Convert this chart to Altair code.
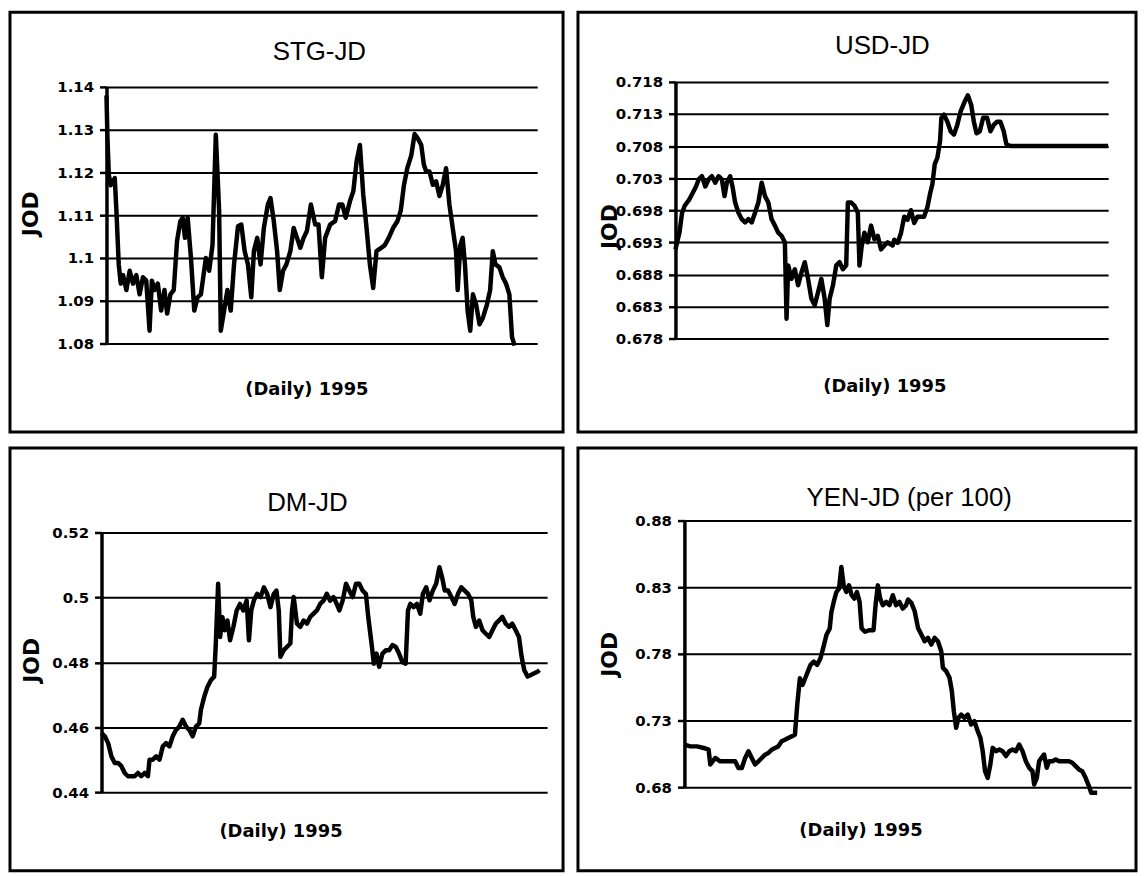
import altair as alt
import pandas as pd

# ---------------- data ----------------
# t = position along the 1995 daily axis (arbitrary units), v = value in JOD
stg_t = [35, 38, 42, 48, 60, 65, 72, 78, 85, 95, 105, 115, 125, 135, 145, 155, 165, 172, 180, 190,
         200, 210, 218, 228, 238, 248, 258, 265, 272, 280, 290, 300, 310, 320, 335, 345, 355, 365, 375, 380,
         390, 400, 410, 420, 432, 442, 452, 462, 472, 480, 490, 500, 510, 522, 530, 540, 550, 558, 568, 578,
         590, 600, 610, 620, 630, 640, 652, 665,
         675, 685, 695, 710, 725, 737, 747, 757, 770, 780, 790, 800, 810, 820, 830, 840, 850, 865, 875, 887,
         900, 913, 923, 933, 943, 955, 965, 975, 985, 993, 1000, 1010, 1020, 1030, 1040, 1050, 1060, 1070,
         1080, 1090, 1095, 1103, 1110, 1117, 1125, 1133, 1141, 1151, 1161, 1171, 1183, 1193, 1201, 1209,
         1221, 1231, 1241, 1251, 1259, 1267]
stg_v = [1.138, 1.128, 1.1195, 1.117, 1.1187, 1.111, 1.0985, 1.094, 1.096, 1.0925, 1.097, 1.094, 1.096,
         1.0915, 1.0955, 1.0947, 1.083, 1.0947, 1.0925, 1.094, 1.0877, 1.0925, 1.087, 1.0915, 1.0925, 1.104,
         1.1086, 1.1094, 1.1047, 1.1094, 1.100, 1.0877, 1.0908, 1.0915, 1.100, 1.097, 1.103, 1.1288, 1.111,
         1.083, 1.0877, 1.0925, 1.0877, 1.0985, 1.1074, 1.1078, 1.1016, 1.0985, 1.0908, 1.1016, 1.1047,
         1.0985, 1.107, 1.1125, 1.114, 1.1086, 1.1016, 1.0925, 1.097, 1.0985, 1.1016, 1.107, 1.1047, 1.1024,
         1.1047, 1.1063, 1.1125, 1.1078,
         1.1078, 1.0955, 1.1047, 1.1078, 1.1086, 1.1125, 1.1125, 1.1094, 1.1133, 1.1156, 1.1226, 1.1264,
         1.1148, 1.107, 1.0985, 1.093, 1.1016, 1.1024, 1.103, 1.1047, 1.107, 1.1086, 1.111, 1.1171, 1.121,
         1.124, 1.129, 1.1279, 1.1264, 1.1218, 1.1202, 1.1202, 1.1171, 1.1179, 1.1145, 1.1171, 1.121,
         1.1125, 1.107, 1.1016, 1.0925, 1.103, 1.1047, 1.0985, 1.0877, 1.083, 1.0915, 1.089, 1.0845, 1.086,
         1.089, 1.0925, 1.1016, 1.0985, 1.0978, 1.0955, 1.094, 1.0915, 1.0815, 1.0795]

usd_t = [10, 15, 22, 30, 38, 45, 52, 62, 72, 80, 90, 100, 110, 120, 130, 140, 150, 158, 165, 175,
         182, 190, 200, 210, 220, 230, 240, 250, 260, 270, 280, 290, 300, 310, 320, 330, 340, 345, 350, 360,
         370, 380, 390, 400, 410, 420, 430, 440, 450, 460, 468, 475, 485, 495, 505, 515, 525, 530, 540, 550,
         560, 565, 572, 580, 590, 600, 610, 620, 630, 640, 650,
         665, 670, 680, 690, 700, 710, 720, 730, 740, 750, 760, 770, 778, 785, 792, 800, 808, 812, 820, 830,
         840, 850, 860, 870, 882, 892, 902, 910, 918, 928, 938, 950, 960, 970, 980, 990, 1000, 1008, 1020,
         1315]
usd_v = [0.6919, 0.693, 0.6945, 0.6976, 0.6987, 0.6992, 0.6997, 0.7007, 0.7017, 0.7028, 0.7033, 0.7017,
         0.7028, 0.7033, 0.7023, 0.7033, 0.7028, 0.7002, 0.7023, 0.7033, 0.7017, 0.6992, 0.6976, 0.6966,
         0.6961, 0.6966, 0.6961, 0.6976, 0.6992, 0.7023, 0.7002, 0.6992, 0.6966, 0.6956, 0.6945, 0.694,
         0.693, 0.6811, 0.6894, 0.6873, 0.6888, 0.6863, 0.6883, 0.6899, 0.6873, 0.6842, 0.6832, 0.6852,
         0.6873, 0.6842, 0.6801, 0.6842, 0.6863, 0.6894, 0.6899, 0.6888, 0.6894, 0.6992, 0.6992, 0.6987,
         0.6976, 0.6894, 0.6925, 0.6945, 0.693, 0.6956, 0.6935, 0.694, 0.6919, 0.6925, 0.693,
         0.6925, 0.6934, 0.6929, 0.6944, 0.697, 0.6965, 0.698, 0.696, 0.697, 0.697, 0.697, 0.6985, 0.7006,
         0.7021, 0.7052, 0.7062, 0.7088, 0.7124, 0.7129, 0.7118, 0.7103, 0.7098, 0.7113, 0.7134, 0.7149,
         0.7159, 0.7144, 0.7118, 0.7100, 0.7103, 0.7124, 0.7124, 0.7103, 0.7113, 0.7118, 0.7118, 0.7103,
         0.7083, 0.708, 0.708]

dm_t = [20, 30, 40, 50, 60, 70, 80, 90, 100, 110, 120, 130, 140, 150, 160, 165, 175, 185, 195, 205,
        215, 225, 235, 245, 255, 265, 275, 285, 295, 305, 315, 320, 330, 340, 350, 360, 365, 372, 378, 385,
        392, 400, 408, 418, 428, 438, 448, 458, 465, 472, 480, 490, 500, 510, 520, 530, 540, 548, 555, 560,
        570, 580, 590, 595, 600, 610, 620, 630, 640, 650, 660, 670, 680,
        690, 700, 710, 720, 730, 738, 748, 758, 768, 778, 788, 798, 808, 818, 825, 835, 842, 850, 858, 868,
        878, 888, 898, 908, 918, 928, 938, 945, 952, 962, 972, 982, 990, 1000, 1010, 1020, 1030, 1040,
        1048, 1056, 1066, 1076, 1086, 1096, 1106, 1116, 1126, 1136, 1142, 1150, 1160, 1170, 1180, 1190,
        1200, 1210, 1220, 1230, 1240, 1250, 1260, 1270, 1280, 1288, 1296, 1306, 1316, 1326, 1336, 1342]
dm_v = [0.4582, 0.4572, 0.4551, 0.451, 0.449, 0.449, 0.448, 0.4459, 0.4449, 0.4449, 0.4449, 0.4459,
        0.4449, 0.4459, 0.4449, 0.450, 0.450, 0.451, 0.450, 0.4541, 0.4551, 0.4541, 0.4572, 0.4592, 0.4602,
        0.4623, 0.4602, 0.4592, 0.4572, 0.4602, 0.4612, 0.4653, 0.4694, 0.4725, 0.4745, 0.4756, 0.4858,
        0.5042, 0.4878, 0.4939, 0.4899, 0.4929, 0.4868, 0.4909, 0.496, 0.498, 0.496, 0.4991, 0.4868, 0.496,
        0.4991, 0.5011, 0.5001, 0.5031, 0.5011, 0.497, 0.5011, 0.5021, 0.496, 0.4817, 0.4837, 0.4848,
        0.4858, 0.496, 0.5001, 0.4919, 0.4909, 0.4929, 0.4919, 0.494, 0.495, 0.496, 0.498,
        0.499, 0.5011, 0.499, 0.5001, 0.498, 0.496, 0.4991, 0.5042, 0.5021, 0.5001, 0.5042, 0.5042, 0.5021,
        0.5011, 0.494, 0.4858, 0.4796, 0.4827, 0.4786, 0.4827, 0.4837, 0.4837, 0.4853, 0.4848, 0.4827,
        0.4801, 0.4796, 0.496, 0.498, 0.497, 0.498, 0.495, 0.5011, 0.5031, 0.4991, 0.5021, 0.5042, 0.5093,
        0.5062, 0.5021, 0.5021, 0.5001, 0.498, 0.5011, 0.5031, 0.5021, 0.5011, 0.4991, 0.494, 0.4909,
        0.4929, 0.4899, 0.4888, 0.4878, 0.4899, 0.4919, 0.4929, 0.494, 0.4919, 0.4909, 0.4919, 0.4899,
        0.4878, 0.4817, 0.4776, 0.4756, 0.4761, 0.4766, 0.4771, 0.4776]

yen_t = [22, 40, 60, 80, 95, 100, 115, 130, 145, 160, 175, 185, 195, 205, 215, 225, 235, 245, 255, 265,
         275, 285, 295, 305, 315, 325, 335, 345, 355, 362, 370, 378, 386, 394, 402, 412, 422, 432, 440, 450,
         460, 465, 472, 480, 488, 495, 502, 510, 518, 526, 534, 542, 550, 556, 566, 580, 592, 598, 605, 612,
         620, 630, 640, 650, 660, 670, 680, 690,
         696, 706, 716, 726, 736, 746, 756, 766, 776, 786, 796, 801, 811, 821, 828, 834, 841, 848, 856, 866,
         876, 886, 896, 906, 914, 921, 928, 936, 944, 951, 961, 971, 981, 991, 1001, 1011, 1021, 1031, 1041,
         1051, 1061, 1071, 1076, 1084, 1091, 1098, 1106, 1114, 1121, 1131, 1141, 1151, 1161, 1171, 1181,
         1191, 1201, 1211, 1221, 1231, 1241, 1248, 1266]
yen_v = [0.7119, 0.7106, 0.7106, 0.7094, 0.7081, 0.697, 0.7019, 0.6994, 0.6994, 0.6994, 0.6994, 0.6944,
         0.6944, 0.7019, 0.7069, 0.7019, 0.697, 0.6994, 0.7019, 0.7044, 0.7056, 0.7081, 0.7094, 0.7106,
         0.7144, 0.7156, 0.7169, 0.7181, 0.7193, 0.7418, 0.7617, 0.7567, 0.7617, 0.7667, 0.7717, 0.7742,
         0.7717, 0.7767, 0.7841, 0.7941, 0.7991, 0.8115, 0.819, 0.8264, 0.8289, 0.8451, 0.8314, 0.8264,
         0.8314, 0.824, 0.8215, 0.8264, 0.819, 0.7991, 0.7966, 0.7978, 0.7978, 0.8165, 0.8314, 0.8215,
         0.8165, 0.819, 0.8165, 0.824, 0.8165, 0.819, 0.814, 0.8165,
         0.8208, 0.8183, 0.812, 0.7995, 0.7945, 0.7895, 0.792, 0.787, 0.792, 0.7895, 0.782, 0.7695, 0.767,
         0.762, 0.752, 0.737, 0.7245, 0.732, 0.7345, 0.732, 0.7345, 0.727, 0.7295, 0.722, 0.717, 0.707,
         0.692, 0.687, 0.697, 0.7095, 0.707, 0.7083, 0.707, 0.7033, 0.707, 0.7083, 0.707, 0.712, 0.707,
         0.6995, 0.6945, 0.692, 0.682, 0.687, 0.6995, 0.702, 0.7045, 0.6945, 0.6995, 0.6995, 0.7008,
         0.6995, 0.6995, 0.6995, 0.6995, 0.6983, 0.6958, 0.6933, 0.692, 0.687, 0.6808, 0.6758, 0.6758]

panel_titles = ["STG-JD", "USD-JD", "DM-JD", "YEN-JD (per 100)"]
stg_ticks = [1.08, 1.09, 1.10, 1.11, 1.12, 1.13, 1.14]
usd_ticks = [0.678, 0.683, 0.688, 0.693, 0.698, 0.703, 0.708, 0.713, 0.718]
dm_ticks = [0.44, 0.46, 0.48, 0.50, 0.52]
yen_ticks = [0.68, 0.73, 0.78, 0.83, 0.88]
x_title = "(Daily) 1995"
y_title = "JOD"

BOLD = "DejaVu Sans"


def panel(t, v, title, ticks, fmt, tdom, w, h, left, top, box, ttl, xt, jod):
    # w, h = view size; left/top = gap between the view edge and the y axis / top gridline
    df = pd.DataFrame({"t": t, "v": v})
    yaxis = dict(values=ticks, format=fmt, title=y_title, grid=True,
                 gridColor="black", gridWidth=2, gridOpacity=1,
                 domainColor="black", domainWidth=3.5,
                 tickColor="black", tickWidth=2.5, tickSize=7,
                 labelFont=BOLD, labelFontWeight="bold", labelFontSize=15,
                 labelColor="black", labelPadding=6,
                 titleFont=BOLD, titleFontSize=22, titleFontWeight="bold",
                 titleColor="black", titleX=jod[0], titleY=jod[1], titleAngle=270,
                 titleBaseline="bottom", titleAlign="center")
    if left:
        yaxis["offset"] = -left
    line = alt.Chart(df).mark_line(color="black", strokeWidth=4.5, strokeJoin="round").encode(
        x=alt.X("t:Q", scale=alt.Scale(domain=tdom, range=[left, w], nice=False, zero=False),
                axis=alt.Axis(title=x_title, labels=False, ticks=False, domain=False, grid=False,
                              titleFont=BOLD, titleFontSize=18, titleFontWeight="bold",
                              titleColor="black", titleX=xt[0], titleY=xt[1],
                              titleBaseline="alphabetic", titleAlign="center")),
        y=alt.Y("v:Q", scale=alt.Scale(domain=[ticks[0], ticks[-1]], range=[h, top],
                                        nice=False, zero=False),
                axis=alt.Axis(**yaxis)),
    )
    tdf = pd.DataFrame({"label": [title]})
    head = alt.Chart(tdf).mark_text(font="Liberation Sans", fontSize=26, color="black",
                                    baseline="alphabetic", align="center").encode(
        text="label:N", x=alt.value(ttl[0]), y=alt.value(ttl[1]))
    frame = alt.Chart(tdf).mark_rect(fillOpacity=0, stroke="black", strokeWidth=3).encode(
        x=alt.value(box[0]), x2=alt.value(box[1]), y=alt.value(box[2]), y2=alt.value(box[3]))
    return alt.layer(frame, line, head).properties(width=w, height=h)


p_stg = panel(stg_t, stg_v, panel_titles[0], stg_ticks, ".2~f", [35, 1335], 438, 263, 5, 5,
              (-92, 464, -70, 352), (219, -22), (206, 51), (-64, 132))
p_usd = panel(usd_t, usd_v, panel_titles[1], usd_ticks, ".3~f", [10, 1315], 435, 258, 0, 0,
              (-98, 463, -70, 352), (208, -28), (210, 53), (-54, 145))
p_dm = panel(dm_t, dm_v, panel_titles[2], dm_ticks, ".2~f", [20, 1365], 448, 273, 0, 12,
             (-92, 464, -73, 352), (207, -10), (180, 45), (-58, 140))
p_yen = panel(yen_t, yen_v, panel_titles[3], yen_ticks, ".2~f", [22, 1368], 449, 268, 0, 0,
              (-107, 454, -73, 352), (226, -15), (177, 49), (-63, 134))

chart = alt.concat(p_stg, p_usd, p_dm, p_yen, columns=2, align="none",
                   spacing={"row": 12, "column": 11}).properties(
    padding=0, background="white"
).configure_view(strokeWidth=0)

chart.save("out.html", embed_options={"renderer": "svg", "actions": False})
